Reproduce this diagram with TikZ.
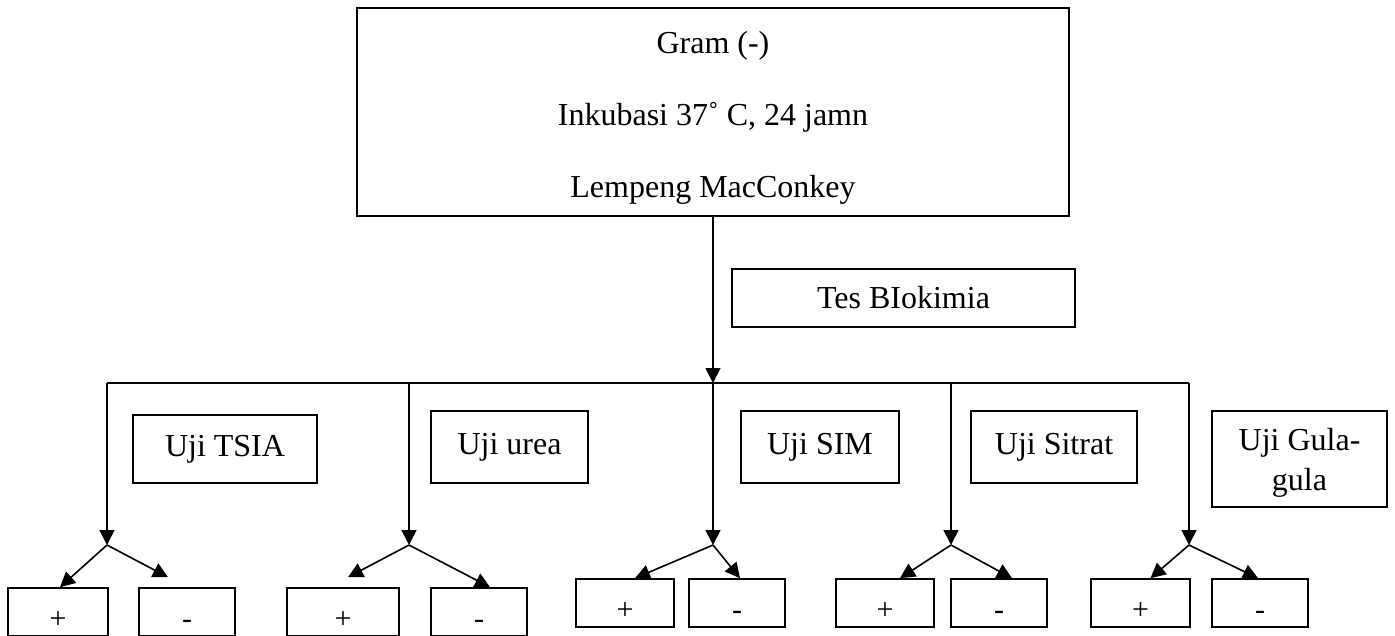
\documentclass[tikz,border=0pt]{standalone}
\usepackage{fontspec}
\setmainfont{Liberation Serif}
\usetikzlibrary{arrows.meta,positioning}

\begin{document}
\begin{tikzpicture}[
  x=0.5pt, y=-0.5pt, line width=0.8pt,
  >={Triangle[length=7.5pt,width=7.5pt]},
  kotak/.style={draw, inner sep=0pt, align=center,
    font=\fontsize{16}{20}\selectfont},
  hasil/.style={draw, inner sep=0pt, minimum height=24pt,
    text height=16pt, text depth=0pt, font=\fontsize{15}{17}\selectfont},
]
\useasboundingbox (0,0) rectangle (1395,636);

% Kotak atas
\node[kotak, minimum width=356pt, minimum height=104pt,
  font=\fontsize{16}{36}\selectfont] (atas) at (713,112)
  {\rule{0pt}{16.5pt}Gram (-)\\Inkubasi 37˚ C, 24 jamn\\Lempeng MacConkey};
\node[kotak, minimum width=171.5pt, minimum height=29pt] (tes) at (903.5,298) {Tes BIokimia};

% Jalur utama
\coordinate (hub) at (713,383);
\coordinate (busL) at (107,383);
\coordinate (busR) at (1189,383);
\draw[->] (atas.south) -- (hub);
\draw (busL) -- (busR);

% Nama uji
\node[kotak, minimum width=92pt, minimum height=34pt] (tsia) at (225,449) {Uji TSIA};
\node[kotak, minimum width=78.5pt, minimum height=36pt] (urea) at (509.5,447) {Uji urea};
\node[kotak, minimum width=79pt, minimum height=36pt] (sim) at (820,447) {Uji SIM};
\node[kotak, minimum width=83pt, minimum height=36pt] (sitrat) at (1054,447) {Uji Sitrat};
\node[kotak, minimum width=87.5pt, minimum height=48pt, text depth=0pt] (gula) at (1299.5,459) {Uji Gula-\\gula};

% Hasil + / -
\node[hasil, minimum width=50pt]   (p1) at (58,612)    {+};
\node[hasil, minimum width=48pt]   (m1) at (187,612)   {-};
\node[hasil, minimum width=56pt]   (p2) at (343,612)   {+};
\node[hasil, minimum width=48pt]   (m2) at (479,612)   {-};
\node[hasil, minimum width=49pt]   (p3) at (625,603)   {+};
\node[hasil, minimum width=48pt]   (m3) at (737,603)   {-};
\node[hasil, minimum width=49pt]   (p4) at (885,603)   {+};
\node[hasil, minimum width=48pt]   (m4) at (999,603)   {-};
\node[hasil, minimum width=49.5pt] (p5) at (1140.5,603) {+};
\node[hasil, minimum width=48pt]   (m5) at (1260,603)  {-};

% Cabang tiap uji
\foreach \i/\x in {1/107,2/409,3/713,4/951,5/1189}{
  \coordinate (t\i) at (\x,383);
  \coordinate (b\i) at (\x,545);
  \draw[->] (t\i) -- (b\i);
}

% Panah ke hasil
\draw[->] (b1) -- ([xshift=1pt]p1.north);
\draw[->] (b1) -- ([xshift=-9.5pt,yshift=5pt]m1.north);
\draw[->] (b2) -- ([xshift=2.5pt,yshift=5pt]p2.north);
\draw[->] (b2) -- ([xshift=5.5pt]m2.north);
\draw[->] (b3) -- ([xshift=5pt]p3.north);
\draw[->] (b3) -- ([xshift=1.5pt]m3.north);
\draw[->] (b4) -- ([xshift=7.5pt]p4.north);
\draw[->] (b4) -- ([xshift=6.5pt]m4.north);
\draw[->] (b5) -- ([xshift=5pt]p5.north);
\draw[->] (b5) -- ([xshift=-1pt]m5.north);

\end{tikzpicture}
\end{document}
